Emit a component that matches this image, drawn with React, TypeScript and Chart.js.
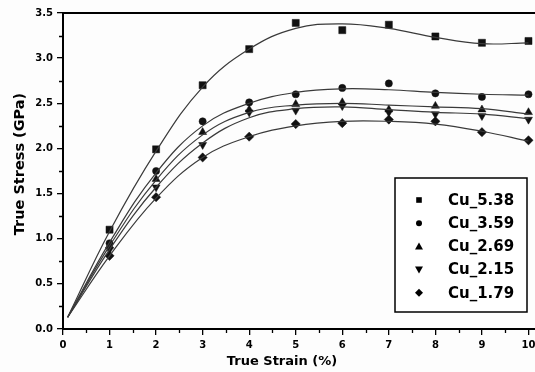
import React, { useEffect, useRef } from 'react';
import { Chart, registerables } from 'chart.js';
Chart.register(...registerables);

// ---- data ----
const strain = [1, 2, 3, 4, 5, 6, 7, 8, 9, 10];
const fitStrain = [0.1, 1, 2, 3, 4, 5, 6, 7, 8, 9, 10];
const seriesLabels = ['Cu_5.38', 'Cu_3.59', 'Cu_2.69', 'Cu_2.15', 'Cu_1.79'];
const cu538 = [1.1, 1.99, 2.7, 3.1, 3.39, 3.31, 3.37, 3.24, 3.17, 3.19];
const cu359 = [0.95, 1.75, 2.3, 2.51, 2.6, 2.67, 2.72, 2.61, 2.57, 2.6];
const cu269 = [0.92, 1.66, 2.18, 2.43, 2.49, 2.51, 2.43, 2.47, 2.43, 2.4];
const cu215 = [0.88, 1.57, 2.04, 2.4, 2.42, 2.47, 2.4, 2.38, 2.36, 2.32];
const cu179 = [0.81, 1.46, 1.9, 2.13, 2.27, 2.28, 2.32, 2.3, 2.18, 2.09];
const fit538 = [0.13, 1.08, 1.97, 2.68, 3.1, 3.33, 3.38, 3.33, 3.23, 3.16, 3.17];
const fit359 = [0.13, 0.96, 1.73, 2.25, 2.5, 2.62, 2.66, 2.65, 2.62, 2.6, 2.59];
const fit269 = [0.13, 0.92, 1.65, 2.15, 2.4, 2.48, 2.5, 2.48, 2.46, 2.44, 2.38];
const fit215 = [0.13, 0.88, 1.57, 2.06, 2.34, 2.44, 2.46, 2.43, 2.4, 2.38, 2.33];
const fit179 = [0.13, 0.81, 1.45, 1.9, 2.13, 2.25, 2.3, 2.3, 2.27, 2.19, 2.08];
const xTitle = 'True Strain (%)';
const yTitle = 'True Stress (GPa)';

const pointSeries = [cu538, cu359, cu269, cu215, cu179];
const fitSeries = [fit538, fit359, fit269, fit215, fit179];
const styles: any[] = ['rect', 'circle', 'triangle', 'triangle', 'rectRot'];
const rotations = [0, 0, 0, 180, 0];
const radii = [5, 3.6, 4.6, 4.6, 4.6];

const FONT = '"DejaVu Sans", sans-serif';

function drawSymbol(ctx: CanvasRenderingContext2D, i: number, x: number, y: number) {
  ctx.beginPath();
  if (i === 0) {
    ctx.rect(x - 2.8, y - 2.8, 5.6, 5.6);
  } else if (i === 1) {
    ctx.arc(x, y, 3, 0, Math.PI * 2);
  } else if (i === 2) {
    ctx.moveTo(x, y - 4);
    ctx.lineTo(x + 4, y + 3);
    ctx.lineTo(x - 4, y + 3);
    ctx.closePath();
  } else if (i === 3) {
    ctx.moveTo(x, y + 4);
    ctx.lineTo(x + 4, y - 3);
    ctx.lineTo(x - 4, y - 3);
    ctx.closePath();
  } else {
    ctx.moveTo(x, y - 4);
    ctx.lineTo(x + 4, y);
    ctx.lineTo(x, y + 4);
    ctx.lineTo(x - 4, y);
    ctx.closePath();
  }
  ctx.fill();
}

const decoPlugin = {
  id: 'deco',
  afterDraw(chart: any) {
    const ctx: CanvasRenderingContext2D = chart.ctx;
    const { left, right, top, bottom } = chart.chartArea;
    const xs = chart.scales.x;
    const ys = chart.scales.y;
    ctx.save();
    ctx.strokeStyle = '#000';
    // top frame
    ctx.lineWidth = 2;
    ctx.beginPath();
    ctx.moveTo(left - 1, top);
    ctx.lineTo(right, top);
    ctx.stroke();
    // minor ticks
    ctx.lineWidth = 1.3;
    ctx.beginPath();
    for (let v = 0.25; v < 3.5; v += 0.5) {
      const p = Math.round(ys.getPixelForValue(v)) + 0.5;
      ctx.moveTo(left - 4, p);
      ctx.lineTo(left, p);
    }
    for (let v = 0.5; v < 10.2; v += 1) {
      const p = Math.round(xs.getPixelForValue(v)) + 0.5;
      ctx.moveTo(p, bottom);
      ctx.lineTo(p, bottom + 4);
    }
    ctx.stroke();
    // axis titles
    ctx.fillStyle = '#000';
    ctx.font = 'bold 13px ' + FONT;
    ctx.textAlign = 'center';
    ctx.textBaseline = 'middle';
    ctx.fillText(xTitle, 282, 362);
    ctx.save();
    ctx.translate(20, 164);
    ctx.rotate(-Math.PI / 2);
    ctx.font = 'bold 14.5px ' + FONT;
    ctx.fillText(yTitle, 0, 0);
    ctx.restore();
    // legend
    const bx = 395, by = 178, bw = 132, bh = 134;
    ctx.fillStyle = '#fff';
    ctx.fillRect(bx, by, bw, bh);
    ctx.lineWidth = 1.5;
    ctx.strokeRect(bx, by, bw, bh);
    ctx.fillStyle = '#000';
    ctx.font = 'bold 15px ' + FONT;
    ctx.textAlign = 'left';
    seriesLabels.forEach((lab, i) => {
      const y = 200 + i * 23.2;
      drawSymbol(ctx, i, 419, y);
      ctx.fillText(lab, 448, y + 1);
    });
    ctx.restore();
  },
};

export default function App() {
  const ref = useRef<HTMLCanvasElement>(null);
  useEffect(() => {
    const datasets: any[] = [];
    fitSeries.forEach((f, i) => {
      datasets.push({
        label: seriesLabels[i] + ' fit',
        data: fitStrain.map((x, k) => ({ x, y: f[k] })),
        showLine: true,
        borderColor: '#3a3a3a',
        borderWidth: 1.2,
        pointRadius: 0,
        tension: 0.4,
        fill: false,
      });
    });
    pointSeries.forEach((s, i) => {
      datasets.push({
        label: seriesLabels[i],
        data: strain.map((x, k) => ({ x, y: s[k] })),
        showLine: false,
        pointStyle: styles[i],
        rotation: rotations[i],
        radius: radii[i],
        pointRadius: radii[i],
        backgroundColor: '#111',
        borderColor: '#111',
        borderWidth: 0.5,
      });
    });
    const chart = new Chart(ref.current!, {
      type: 'scatter',
      data: { datasets },
      options: {
        animation: false,
        responsive: false,
        layout: { autoPadding: false, padding: { top: 13, right: 0, left: 0, bottom: 0 } },
        plugins: { legend: { display: false }, tooltip: { enabled: false } },
        scales: {
          x: {
            type: 'linear',
            min: 0,
            max: 10.14,
            afterFit: (s: any) => { s.height = 43; s.paddingRight = 0; s.paddingLeft = 0; },
            ticks: {
              stepSize: 1,
              includeBounds: false,
              color: '#000',
              padding: 4,
              font: { family: FONT, size: 10, weight: 'bold' },
              callback: (v: any) => String(v),
            },
            grid: { drawOnChartArea: false, drawTicks: true, tickLength: 6, color: '#000', lineWidth: 1.3 },
            border: { display: true, color: '#000', width: 2 },
          },
          y: {
            type: 'linear',
            min: 0,
            max: 3.5,
            afterFit: (s: any) => { s.width = 63; s.paddingTop = 0; s.paddingBottom = 0; },
            ticks: {
              stepSize: 0.5,
              color: '#000',
              padding: 4,
              font: { family: FONT, size: 10, weight: 'bold' },
              callback: (v: any) => Number(v).toFixed(1),
            },
            grid: { drawOnChartArea: false, drawTicks: true, tickLength: 6, color: '#000', lineWidth: 1.3 },
            border: { display: true, color: '#000', width: 2 },
          },
        },
      },
      plugins: [decoPlugin],
    } as any);
    return () => chart.destroy();
  }, []);
  return (
    <div style={{ position: 'absolute', left: 0, top: 0, width: 535, height: 372, background: '#fdfdfd' }}>
      <canvas ref={ref} width={535} height={372} />
    </div>
  );
}
